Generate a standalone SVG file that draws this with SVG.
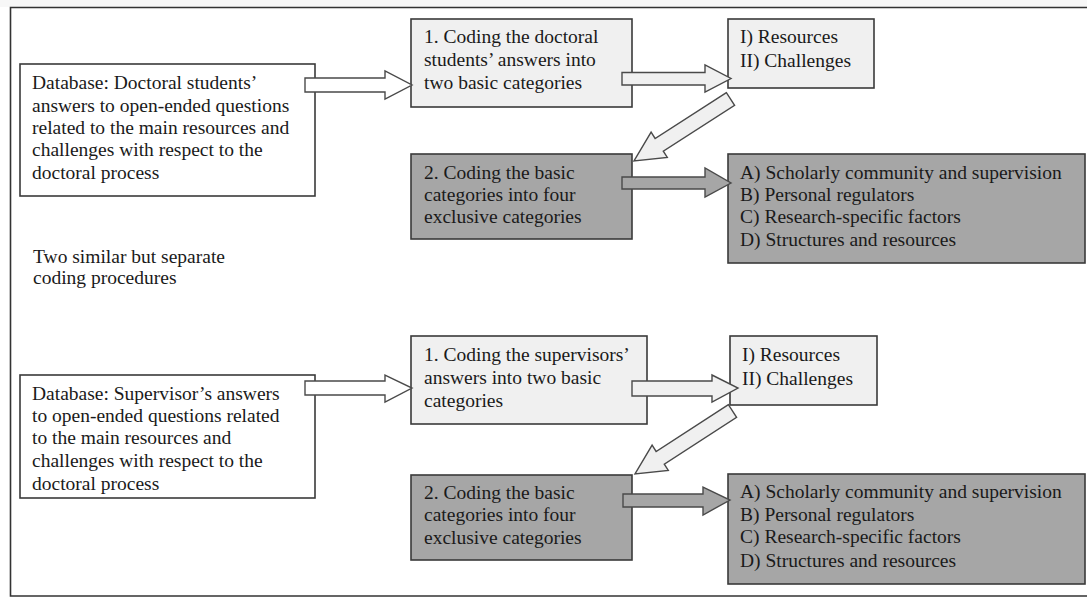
<svg xmlns="http://www.w3.org/2000/svg" width="1087" height="598" viewBox="0 0 1087 598">
<style>
text{font-family:"Liberation Serif","Times New Roman",serif;font-size:19.5px;fill:#1a1a1a}
.box{stroke:#3a3a3a;stroke-width:1.6}
.white{fill:#ffffff}
.light{fill:#f0f0f0}
.dark{fill:#a6a6a6}
.arr{stroke:#4a4a4a;stroke-width:1.4;stroke-linejoin:miter}
</style>
<rect x="0" y="0" width="1087" height="598" fill="#ffffff"/>
<rect x="0" y="0" width="1087" height="7" fill="#f7f7f7"/>
<g id="frame">
<path d="M1090,7.5 H10.5 V596 H1090" fill="none" stroke="#333" stroke-width="1.6"/>
</g>
<g id="db1">
<rect class="box white" x="20" y="64" width="295" height="132"/>
<text x="32" y="89">Database:  Doctoral students’</text>
<text x="32" y="112">answers to open-ended questions</text>
<text x="32" y="134">related to the main resources and</text>
<text x="32" y="156">challenges  with respect to the</text>
<text x="32" y="179">doctoral process</text>
</g>
<g id="c1a">
<rect class="box light" x="411" y="19" width="221" height="88"/>
<text x="424" y="43">1. Coding the doctoral</text>
<text x="424" y="66">students’ answers into</text>
<text x="424" y="89">two basic categories</text>
</g>
<g id="cat1a">
<rect class="box light" x="728" y="19" width="146" height="69"/>
<text x="740" y="43">I) Resources</text>
<text x="740" y="67">II) Challenges</text>
</g>
<g id="c2a">
<rect class="box dark" x="411" y="154" width="221" height="85"/>
<text x="424" y="179">2. Coding the basic</text>
<text x="424" y="201">categories into four</text>
<text x="424" y="223">exclusive categories</text>
</g>
<g id="cat2a">
<rect class="box dark" x="728" y="154" width="357" height="109"/>
<text x="740" y="179">A) Scholarly community and supervision</text>
<text x="740" y="201">B) Personal regulators</text>
<text x="740" y="223">C) Research-specific factors</text>
<text x="740" y="246">D) Structures and resources</text>
</g>
<g id="note">
<text x="33" y="263">Two similar  but separate</text>
<text x="33" y="284">coding procedures</text>
</g>
<g id="db2">
<rect class="box white" x="20" y="375" width="295" height="123"/>
<text x="32" y="400">Database: Supervisor’s  answers</text>
<text x="32" y="422">to open-ended questions related</text>
<text x="32" y="444">to the main resources and</text>
<text x="32" y="467">challenges  with respect to the</text>
<text x="32" y="490">doctoral process</text>
</g>
<g id="c1b">
<rect class="box light" x="411" y="336" width="236" height="88"/>
<text x="424" y="361">1. Coding the supervisors’</text>
<text x="424" y="384">answers into two basic</text>
<text x="424" y="407">categories</text>
</g>
<g id="cat1b">
<rect class="box light" x="730" y="336" width="147" height="69"/>
<text x="742" y="361">I) Resources</text>
<text x="742" y="385">II) Challenges</text>
</g>
<g id="c2b">
<rect class="box dark" x="411" y="475" width="221" height="85"/>
<text x="424" y="499">2. Coding the basic</text>
<text x="424" y="521">categories into four</text>
<text x="424" y="544">exclusive categories</text>
</g>
<g id="cat2b">
<rect class="box dark" x="728" y="474" width="357" height="110"/>
<text x="740" y="498">A) Scholarly community and supervision</text>
<text x="740" y="521">B) Personal regulators</text>
<text x="740" y="543">C) Research-specific factors</text>
<text x="740" y="567">D) Structures and resources</text>
</g>
<g id="connectors">
<polygon class="arr white" points="305,78 385,78 385,71 412,85 385,99 385,92 305,92"/>
<polygon class="arr light" points="622,72.5 705,72.5 705,65 731,78.5 705,92 705,85 622,85"/>
<polygon class="arr light" points="726.4,92.7 655.1,138.5 651.1,132.2 634,161 667.3,157.4 663.3,151.1 734.6,105.3"/>
<polygon class="arr dark" points="622,177 705,177 705,168 731,183 705,197 705,189 622,189"/>
<polygon class="arr white" points="305,381 385,381 385,375 412,388 385,402 385,395 305,395"/>
<polygon class="arr light" points="632,381 712,381 712,375 738,388 712,402 712,396 632,396"/>
<polygon class="arr light" points="728.4,404.7 656.1,451.5 652.1,445.2 635,474 668.3,470.4 664.3,464.1 736.6,417.3"/>
<polygon class="arr dark" points="623,494 703,494 703,487 730,500 703,515 703,507 623,507"/>
</g>
</svg>
